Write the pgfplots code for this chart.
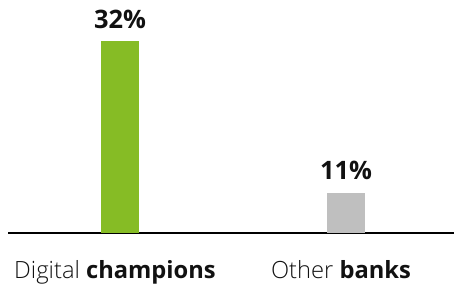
\documentclass[border=0pt]{standalone}
\usepackage{pgfplots}
\pgfplotsset{compat=1.18}
\usepackage{fontspec}
\setmainfont{Open Sans}
\newfontfamily\lightfont{Open Sans Light}
\definecolor{dgreen}{HTML}{86BC25}
\definecolor{dgray}{HTML}{BFBFBF}
\definecolor{txt}{HTML}{111111}
\begin{document}
\begin{tikzpicture}
\path[use as bounding box] (0,0) rectangle (454bp,284bp);
\begin{axis}[
  at={(8bp,51bp)}, anchor=south west,
  scale only axis, width=446bp, height=233bp,
  xmin=-0.4956, xmax=1.478, ymin=5.47, ymax=37.67,
  axis x line=bottom, axis y line=none,
  x axis line style={-, line width=1.4bp, black},
  xtick={0,1}, xticklabels={{\lightfont Digital} \textbf{champions}, {\lightfont Other} \textbf{banks}},
  major tick length=0pt,
  ytick=\empty,
  xticklabel style={anchor=base, yshift=-45bp, xshift=-5bp, font=\fontsize{23.8}{28}\selectfont, text=txt, inner sep=0pt},
  clip=false,
  ybar, bar width=38bp, bar shift=0pt,
  nodes near coords,
  point meta=explicit symbolic,
  every node near coord/.append style={anchor=base, yshift=13bp, font=\fontsize{25.5}{30}\selectfont\bfseries, text=txt, inner sep=0pt},
]
\addplot[fill=dgreen, draw=none, bar shift=0pt] coordinates {(0,32) [32\%]};
\addplot[fill=dgray, draw=none, bar shift=0pt] coordinates {(1,11) [11\%]};
\end{axis}
\end{tikzpicture}
\end{document}
